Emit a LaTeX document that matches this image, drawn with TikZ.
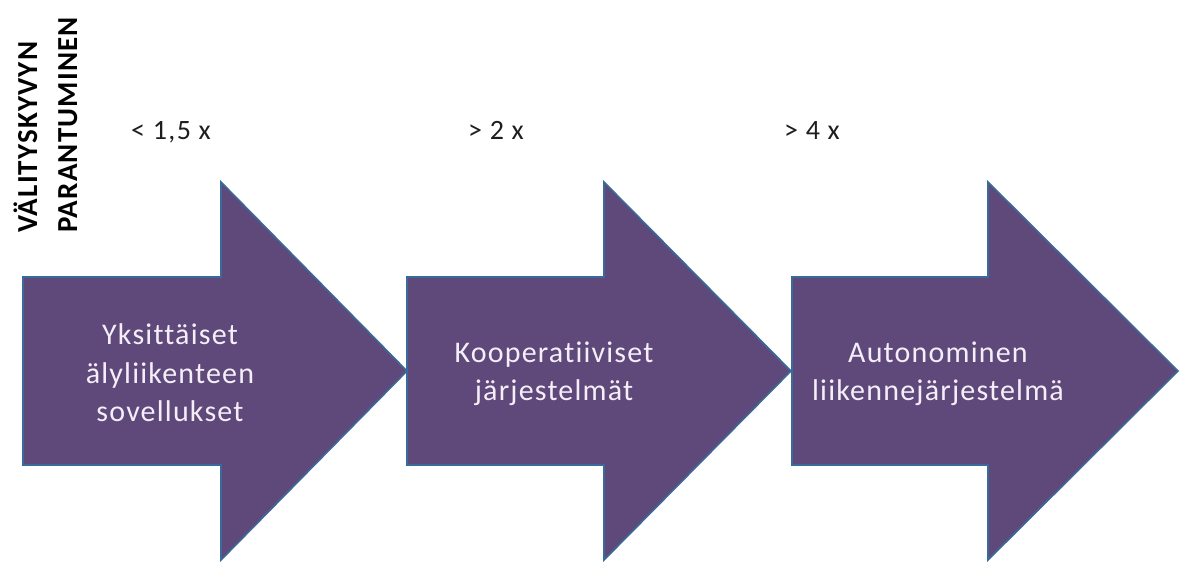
\documentclass[tikz,border=0pt]{standalone}
\usepackage{fontspec}
\setmainfont{Carlito}
\newfontfamily\arrowfont[LetterSpace=4,Ligatures=NoCommon]{Carlito}
\newfontfamily\gainfont[LetterSpace=5,Ligatures=NoCommon]{Carlito}
\newfontfamily\axisfont[LetterSpace=4,Ligatures=NoCommon]{Carlito}
\definecolor{arrowfill}{HTML}{5F497A}
\definecolor{arrowline}{HTML}{3A6A9A}
\definecolor{arrowtext}{HTML}{F5EEF8}
\definecolor{labeltext}{HTML}{1E1E1E}
\tikzset{
  bigarrow/.style={fill=arrowfill, draw=arrowline, line width=1.6pt, line join=miter},
  stagetext/.style={text=arrowtext, align=center, inner sep=0pt,
    font=\arrowfont\fontsize{30}{38.5}\selectfont},
  factor/.style={text=labeltext, anchor=base, inner sep=0pt,
    font=\gainfont\fontsize{28}{34}\selectfont},
  axislabel/.style={text=black, rotate=90, anchor=base west, inner sep=0pt,
    font=\axisfont\bfseries\fontsize{29}{34}\selectfont}
}
% draws a block arrow: body from #1 to #2, head from #2 to tip #3, centred on y=371
\newcommand{\blockarrow}[3]{%
  \draw[bigarrow] (#1,277) -- (#2,277) -- (#2,182) -- (#3,371) -- (#2,560)
    -- (#2,465) -- (#1,465) -- cycle;}
\begin{document}
\begin{tikzpicture}[x=1pt, y=-1pt]
  \useasboundingbox (0,0) rectangle (1188,563);

  % vertical axis title
  \node[axislabel] (axisA) at (37,233) {VÄLITYSKYVYN};
  \node[axislabel] (axisB) at (77,233) {PARANTUMINEN};

  % the three stages
  \blockarrow{23}{221}{407}
  \blockarrow{407}{604}{791}
  \blockarrow{792}{988}{1178}

  \node[stagetext] (stageA) at (170,373) {Yksittäiset\\älyliikenteen\\sovellukset};
  \node[stagetext] (stageB) at (554,373.5) {Kooperatiiviset\\järjestelmät};
  \node[stagetext] (stageC) at (938,373.5) {Autonominen\\liikennejärjestelmä};

  % capacity gain above each stage
  \node[factor] (gainA) at (171,139) {< 1,5 x};
  \node[factor] (gainB) at (496,139) {> 2 x};
  \node[factor] (gainC) at (812,139) {> 4 x};
\end{tikzpicture}
\end{document}
